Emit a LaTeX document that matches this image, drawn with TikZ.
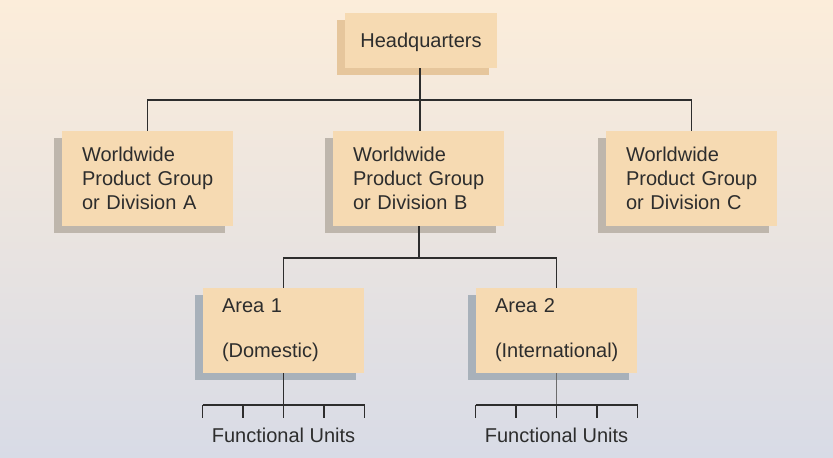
\documentclass[tikz,border=0pt]{standalone}
\usepackage{fontspec}
\setmainfont{Liberation Sans}
\definecolor{bgtop}{RGB}{252,237,218}
\definecolor{bgmid}{RGB}{237,234,231}
\definecolor{bgbot}{RGB}{216,219,230}
\definecolor{boxfill}{RGB}{246,218,178}
\definecolor{shHQ}{RGB}{230,198,156}
\definecolor{shDiv}{RGB}{190,182,172}
\definecolor{shArea}{RGB}{168,177,186}
\definecolor{ink}{RGB}{45,45,45}
\begin{document}
\begin{tikzpicture}[x=1pt,y=-1pt,
  every node/.style={font=\fontsize{20}{24}\selectfont, text=ink},
  boxbase/.style={fill=boxfill, draw=none,
    preaction={fill=#1, transform canvas={xshift=-8pt,yshift=-7pt}}},
  hqbox/.style={boxbase=shHQ, minimum width=152pt, minimum height=55pt, text depth=0pt, inner sep=0pt},
  divbox/.style={boxbase=shDiv, text width=131pt, inner xsep=20pt, inner ysep=0pt, minimum height=95pt, align=left},
  areabox/.style={boxbase=shArea, text width=123pt, inner xsep=19pt, inner ysep=0pt, minimum height=85pt, align=left},
  conn/.style={draw=ink, line width=1.4pt},
  fulabel/.style={inner sep=0pt}
]
\useasboundingbox (0,0) rectangle (833,458);
\shade[top color=bgtop, middle color=bgmid, bottom color=bgbot] (0,0) rectangle (833,458);

\coordinate (j1) at (420,100);
\coordinate (j2) at (419,258);
\coordinate (c1) at (283.5,405);
\coordinate (c2) at (556.5,405);

\node[hqbox] (hq) at (421,40.5) {Headquarters};
\node[divbox] (divA) at (147.5,178.5) {Worldwide\\\mbox{Product Group}\\or Division A};
\node[divbox] (divB) at (418.5,178.5) {Worldwide\\\mbox{Product Group}\\or Division B};
\node[divbox] (divC) at (691.5,178.5) {Worldwide\\\mbox{Product Group}\\or Division C};
\node[areabox] (ar1) at (283.5,330.5) {Area 1\\[21pt](Domestic)};
\node[areabox] (ar2) at (556.5,330.5) {Area 2\\[21pt]\mbox{(International)}};

\begin{scope}[conn]
\draw (hq.south -| j1) -- (j1);
\draw (divA.north) |- (j1) -| (divC.north);
\draw (j1) -- (j1 |- divB.north);
\draw (j2 |- divB.south) -- (j2);
\draw (ar1.north) |- (j2) -| (ar2.north);
\draw (ar1.south) -- (c1);
\draw ([xshift=-81pt]c1) -- ([xshift=81pt]c1);
\foreach \dx in {-81,-40.5,0,40.5,81} \draw ([xshift=\dx pt]c1) -- ++(0,13);
\draw[draw=ink!70] (ar2.south) -- (c2);
\draw ([xshift=-81pt]c2) -- ([xshift=81pt]c2);
\foreach \dx in {-81,-40.5,0,40.5,81} \draw ([xshift=\dx pt]c2) -- ++(0,13);
\end{scope}

\node[fulabel, anchor=base] (fu1) at (283.5,442) {Functional Units};
\node[fulabel, anchor=base] (fu2) at (556.5,442) {Functional Units};
\end{tikzpicture}
\end{document}
